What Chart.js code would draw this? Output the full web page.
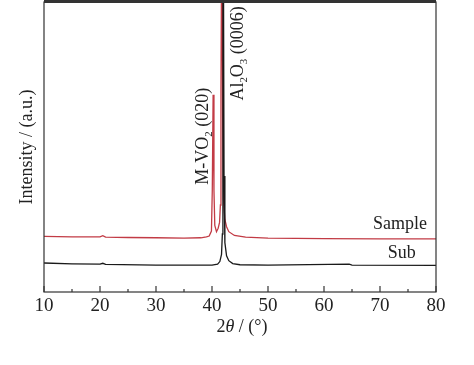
<!DOCTYPE html>
<html>
<head>
<meta charset="utf-8">
<script src="https://cdn.jsdelivr.net/npm/chart.js@4.4.1/dist/chart.umd.min.js"></script>
<style>
  html, body { margin: 0; padding: 0; background: #fff; }
  #wrap { width: 474px; height: 365px; }
</style>
</head>
<body>
<div id="wrap"><canvas id="xrd"></canvas></div>
<script>
// 2theta positions and intensities (arbitrary units)
const sampleTheta = [10, 15, 20, 20.5, 21, 25, 30, 35, 38, 39, 39.5, 39.9, 40.05, 40.2, 40.35, 40.5, 40.8, 41.1, 41.35, 41.5, 41.6, 41.7, 41.8, 41.9, 42.05, 42.3, 42.6, 43, 44, 46, 50, 60, 70, 80];
const sampleIntensity = [19.2, 19, 19, 19.4, 18.9, 18.8, 18.7, 18.6, 18.7, 19, 19.3, 21, 35, 68, 35, 23, 20.8, 22, 24, 30, 70, 110, 110, 60, 32, 25, 22.5, 20.8, 19.5, 18.9, 18.6, 18.4, 18.3, 18.3];

const subTheta = [10, 15, 20, 20.5, 21, 30, 40, 41, 41.4, 41.7, 41.85, 41.95, 42.05, 42.15, 42.3, 42.6, 43, 43.7, 45, 50, 64.5, 65, 80];
const subIntensity = [10, 9.7, 9.6, 9.9, 9.5, 9.3, 9.3, 9.6, 10.5, 13, 20, 110, 110, 40, 17, 12.5, 10.8, 9.8, 9.4, 9.3, 9.6, 9.3, 9.2];

const xMajorTicks = [10, 20, 30, 40, 50, 60, 70, 80];
const xMinorTicks = [15, 25, 35, 45, 55, 65, 75];

const SERIF = '"Liberation Serif", "DejaVu Serif", serif';

function toPoints(xs, ys) {
    return xs.map((x, i) => ({ x: x, y: ys[i] }));
}

// draw a run of text pieces (subscripts / italics), optionally rotated -90deg
function drawPieces(ctx, x, y, pieces, size, rotate, centered) {
    ctx.save();
    ctx.translate(x, y);
    if (rotate) ctx.rotate(-Math.PI / 2);
    ctx.textBaseline = 'alphabetic';
    ctx.textAlign = 'left';
    const fontFor = p => (p.it ? 'italic ' : '') + (p.sub ? size * 0.6 : size) + 'px ' + SERIF;
    let total = 0;
    pieces.forEach(p => { ctx.font = fontFor(p); total += ctx.measureText(p.t).width; });
    let pos = centered ? -total / 2 : 0;
    pieces.forEach(p => {
        ctx.font = fontFor(p);
        ctx.fillText(p.t, pos, p.sub ? size * 0.22 : 0);
        pos += ctx.measureText(p.t).width;
    });
    ctx.restore();
}

const framePlugin = {
    id: 'frame',
    afterDatasetsDraw(chart) {
        const { ctx, chartArea: a, scales } = chart;
        ctx.save();
        ctx.strokeStyle = '#333';
        ctx.lineWidth = 1.2;
        ctx.strokeRect(a.left, a.top, a.right - a.left, a.bottom - a.top);
        // thick top edge
        ctx.fillStyle = '#333';
        ctx.fillRect(a.left, 0, a.right - a.left, 3);

        // inward ticks on the bottom axis
        xMajorTicks.forEach(v => {
            const px = scales.x.getPixelForValue(v);
            ctx.beginPath();
            ctx.moveTo(px, a.bottom);
            ctx.lineTo(px, a.bottom - 6);
            ctx.stroke();
        });
        xMinorTicks.forEach(v => {
            const px = scales.x.getPixelForValue(v);
            ctx.beginPath();
            ctx.moveTo(px, a.bottom);
            ctx.lineTo(px, a.bottom - 3);
            ctx.stroke();
        });

        // peak labels and curve names
        ctx.fillStyle = '#222';
        const xs = scales.x, ys = scales.y;
        drawPieces(ctx, xs.getPixelForValue(39.4) - 1, ys.getPixelForValue(37), [
            { t: 'M-VO' }, { t: '2', sub: true }, { t: ' (020)' }
        ], 18, true, false);
        drawPieces(ctx, xs.getPixelForValue(45.5), ys.getPixelForValue(66), [
            { t: 'Al' }, { t: '2', sub: true }, { t: 'O' }, { t: '3', sub: true }, { t: ' (0006)' }
        ], 18, true, false);

        ctx.font = '18px ' + SERIF;
        ctx.textAlign = 'right';
        ctx.textBaseline = 'alphabetic';
        ctx.fillText('Sample', xs.getPixelForValue(78.4), ys.getPixelForValue(21.8));
        ctx.fillText('Sub', xs.getPixelForValue(76.4), ys.getPixelForValue(11.6));

        // x axis title with italic theta
        drawPieces(ctx, (a.left + a.right) / 2 + 2, a.bottom + 40, [
            { t: '2' }, { t: 'θ', it: true }, { t: ' / (°)' }
        ], 18, false, true);
        ctx.restore();
    }
};

new Chart(document.getElementById('xrd'), {
    type: 'line',
    data: {
        datasets: [{
            label: 'Sub',
            data: toPoints(subTheta, subIntensity),
            borderColor: '#1a1a1a',
            borderWidth: 1.3,
            pointRadius: 0,
            tension: 0
        }, {
            label: 'Sample',
            data: toPoints(sampleTheta, sampleIntensity),
            borderColor: '#c23b45',
            borderWidth: 1.3,
            pointRadius: 0,
            tension: 0
        }]
    },
    options: {
        responsive: true,
        maintainAspectRatio: false,
        animation: false,
        layout: { padding: { top: 2, right: 38, left: 12, bottom: 24 } },
        plugins: {
            legend: { display: false },
            tooltip: { enabled: false }
        },
        scales: {
            x: {
                type: 'linear',
                min: 10,
                max: 80,
                afterBuildTicks: (scale) => {
                    scale.ticks = xMajorTicks.map(v => ({ value: v }));
                },
                afterFit: (scale) => { scale.height = 49; },
                grid: { display: false, drawTicks: false },
                border: { display: false },
                ticks: {
                    padding: 3,
                    color: '#222',
                    maxRotation: 0,
                    font: { family: SERIF, size: 19 }
                },
                title: { display: false }
            },
            y: {
                min: 0,
                max: 100,
                afterFit: (scale) => { scale.width = 32; },
                grid: { display: false, drawTicks: false },
                border: { display: false },
                ticks: { display: false },
                title: {
                    display: true,
                    text: 'Intensity / (a.u.)',
                    color: '#222',
                    padding: { top: 4, bottom: 4 },
                    font: { family: SERIF, size: 18 }
                }
            }
        }
    },
    plugins: [framePlugin]
});
</script>
</body>
</html>
